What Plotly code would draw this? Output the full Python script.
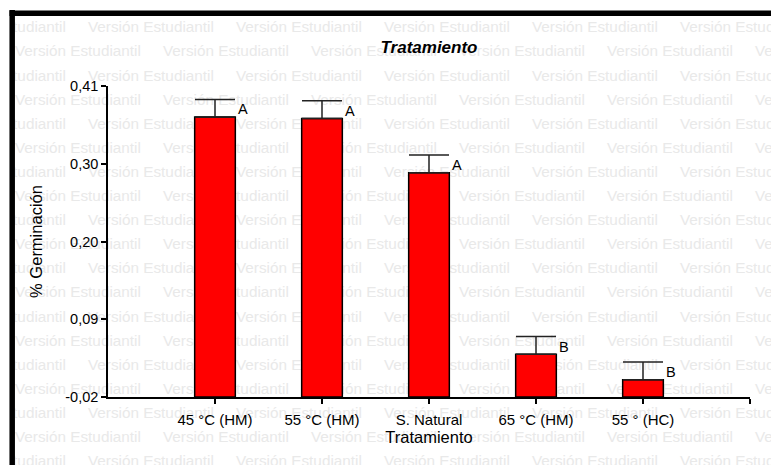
import plotly.graph_objects as go

# Germination by treatment (mean ± SE) and Tukey groups
categories = ["45 °C (HM)", "55 °C (HM)", "S. Natural", "65 °C (HM)", "55 ° (HC)"]
germinacion = [0.367, 0.365, 0.290, 0.039, 0.004]
error_std = [0.0245, 0.0245, 0.0245, 0.0245, 0.0245]
grupos = ["A", "A", "A", "B", "B"]
y_tickvals = [-0.02, 0.0875, 0.195, 0.3025, 0.41]
y_ticktext = ["-0,02", "0,09", "0,20", "0,30", "0,41"]
baseline = -0.02

W, H = 771, 465
FONT = "Arial, Liberation Sans, sans-serif"


def px_x(p):
    return p / W


def px_y(p):
    return 1 - p / H


fig = go.Figure()

# Repeated "Versión Estudiantil" background text, drawn in its own pixel-space subplot
wm_x, wm_y = [], []
for k in range(20):
    yy = 28.5 + 24.1 * k
    xx = (88 if k % 2 == 0 else 15) - 148 * 2
    while xx < W:
        wm_x.append(xx)
        wm_y.append(yy)
        xx += 148
fig.add_trace(go.Scatter(
    x=wm_x, y=wm_y, mode="text", text=["Versión Estudiantil"] * len(wm_x),
    textposition="middle right",
    textfont=dict(family=FONT, size=15.3, color="#e9e9e9"),
    hoverinfo="skip", showlegend=False, cliponaxis=True,
    xaxis="x", yaxis="y",
))

# Bars drawn up from the axis baseline
xpos = list(range(len(categories)))
fig.add_trace(go.Bar(
    x=xpos, y=[v - baseline for v in germinacion], base=baseline,
    width=0.38,
    marker=dict(color="#ff0000", line=dict(color="black", width=1.5)),
    error_y=dict(type="data", symmetric=False, array=error_std,
                 arrayminus=[0] * len(error_std),
                 color="#222222", thickness=1.5, width=20),
    hoverinfo="skip", showlegend=False,
    xaxis="x2", yaxis="y2",
))

# Group letters next to the error-bar caps
for i, (v, e, g) in enumerate(zip(germinacion, error_std, grupos)):
    fig.add_annotation(
        x=i + 0.2, y=v + e, xref="x2", yref="y2", text=g, showarrow=False,
        xanchor="left", yanchor="top",
        font=dict(family=FONT, size=14.5, color="black"),
    )

axis_common = dict(
    showline=True, linecolor="black", linewidth=1.5,
    ticks="outside", ticklen=5, tickwidth=1.5, tickcolor="black",
    showgrid=False, zeroline=False, automargin=False,
)

fig.update_layout(
    width=W, height=H,
    margin=dict(l=0, r=0, t=0, b=0, autoexpand=False),
    paper_bgcolor="white", plot_bgcolor="rgba(0,0,0,0)",
    showlegend=False,
    title=dict(text="<b><i>Tratamiento</i></b>", x=px_x(429), y=px_y(47),
               xanchor="center", yanchor="middle", xref="paper", yref="paper",
               automargin=False,
               font=dict(family=FONT, size=17, color="black")),
    xaxis=dict(domain=[px_x(15), 1], range=[15, W], visible=False,
               fixedrange=True, automargin=False),
    yaxis=dict(domain=[0, px_y(16)], range=[H, 16], visible=False,
               fixedrange=True, automargin=False),
    xaxis2=dict(domain=[px_x(108), px_x(750)], range=[-1, 5], anchor="y2",
                tickmode="array", tickvals=xpos + [5],
                ticktext=categories + [""], ticklabelstandoff=3,
                tickfont=dict(family=FONT, size=15, color="black"),
                title=dict(text="Tratamiento", standoff=5,
                           font=dict(family=FONT, size=16.5, color="black")),
                **axis_common),
    yaxis2=dict(domain=[px_y(397), px_y(86)], range=[-0.02, 0.41], anchor="x2",
                tickmode="array", tickvals=y_tickvals, ticktext=y_ticktext,
                tickfont=dict(family=FONT, size=14.5, color="black"),
                title=dict(text="% Germinación", standoff=19,
                           font=dict(family=FONT, size=16.5, color="black")),
                **axis_common),
    shapes=[
        dict(type="line", xref="paper", yref="paper",
             x0=px_x(12.2), x1=px_x(12.2), y0=px_y(10), y1=px_y(480),
             line=dict(color="black", width=5.5)),
        dict(type="line", xref="paper", yref="paper",
             x0=px_x(9.5), x1=px_x(790), y0=px_y(13.3), y1=px_y(13.3),
             line=dict(color="black", width=5.5)),
    ],
)

fig.write_html("out.html")
